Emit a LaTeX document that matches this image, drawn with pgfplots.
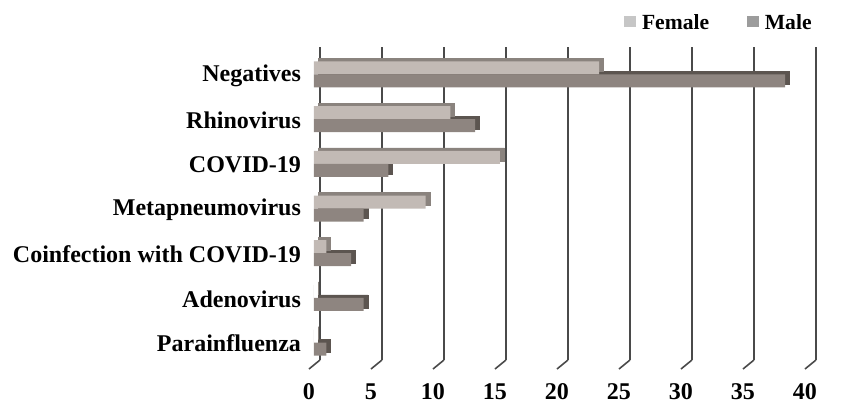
\documentclass[border=0pt]{standalone}
\usepackage{fontspec}
\setmainfont{Liberation Serif}
\usepackage{pgfplots}
\pgfplotsset{compat=1.18}

\definecolor{femfront}{HTML}{C2BAB5}
\definecolor{femside}{HTML}{8A837E}
\definecolor{malefront}{HTML}{8E8580}
\definecolor{maleside}{HTML}{5C5550}
\definecolor{femkey}{HTML}{C6C6C6}
\definecolor{malekey}{HTML}{9C9C9C}
\definecolor{gridc}{HTML}{4A4A4A}

% y positions: 6 = Negatives (top) ... 0 = Parainfluenza (bottom)
\begin{document}
\begin{tikzpicture}
\useasboundingbox (-160pt,-22pt) rectangle (261.5pt,180pt);
\begin{axis}[
  at={(0pt,0pt)}, anchor=south west,
  scale only axis,
  width=248pt, height=156.5pt,
  xmin=0, xmax=40, ymin=-0.5, ymax=6.5,
  axis line style={draw=none},
  tick style={draw=none},
  xbar, bar width=6.5pt,
  xtick={0,5,...,40},
  xticklabels={0,5,10,15,20,25,30,35,40},
  ytick={0,1,2,3,4,5,6},
  yticklabels={Parainfluenza,Adenovirus,Coinfection with COVID-19,Metapneumovirus,COVID-19,Rhinovirus,Negatives},
  xmajorgrids,
  major grid style={gridc, line width=0.8pt},
  major tick length=0pt,
  ticklabel style={font=\bfseries\fontsize{12}{14}\selectfont},
  xticklabel style={anchor=base, xshift=-5.5pt, yshift=-19.5pt},
  yticklabel style={anchor=east, xshift=-6pt, yshift=-3pt},
  legend columns=2,
  legend style={draw=none, fill=none, at={(rel axis cs:1,1)}, anchor=east,
    xshift=-1pt, yshift=12pt, inner sep=0pt,
    font=\bfseries\fontsize{10.8}{12}\selectfont,
    nodes={inner sep=1pt},
    /tikz/every odd column/.style={column sep=2pt},
    /tikz/column 2/.style={column sep=18pt}},
  clip=false,
]
% depth faces (drawn first, slightly up and to the right)
\addplot[forget plot, fill=maleside, draw=maleside, line width=0.3pt,
  bar shift=-3.25pt, xshift=-0.8pt, yshift=-1pt]
  coordinates {(38,6) (13,5) (6,4) (4,3) (3,2) (4,1) (1,0)};
\addplot[forget plot, fill=femside, draw=femside, line width=0.3pt,
  bar shift=3.25pt, xshift=-0.8pt, yshift=-1pt]
  coordinates {(23,6) (11,5) (15,4) (9,3) (1,2) (0,1) (0,0)};
% front faces
\addplot[fill=femfront, draw=none, bar shift=3.25pt, xshift=-3pt, yshift=-2.5pt,
  legend image code/.code={\fill[femkey] (0pt,0.3pt) rectangle (5.8pt,6.1pt);}]
  coordinates {(23,6) (11,5) (15,4) (9,3) (1,2) (0,1) (0,0)};
\addlegendentry{Female}
\addplot[fill=malefront, draw=none, bar shift=-3.25pt, xshift=-3pt, yshift=-2.5pt,
  legend image code/.code={\fill[malekey] (0pt,0.3pt) rectangle (5.8pt,6.1pt);}]
  coordinates {(38,6) (13,5) (6,4) (4,3) (3,2) (4,1) (1,0)};
\addlegendentry{Male}
% floor edges of the grid walls
\pgfplotsinvokeforeach{0,5,...,40}{
  \draw[gridc, line width=0.8pt] (axis cs:#1,-0.5) -- ++(-5.5pt,-4.5pt);
}
\end{axis}
\end{tikzpicture}
\end{document}
